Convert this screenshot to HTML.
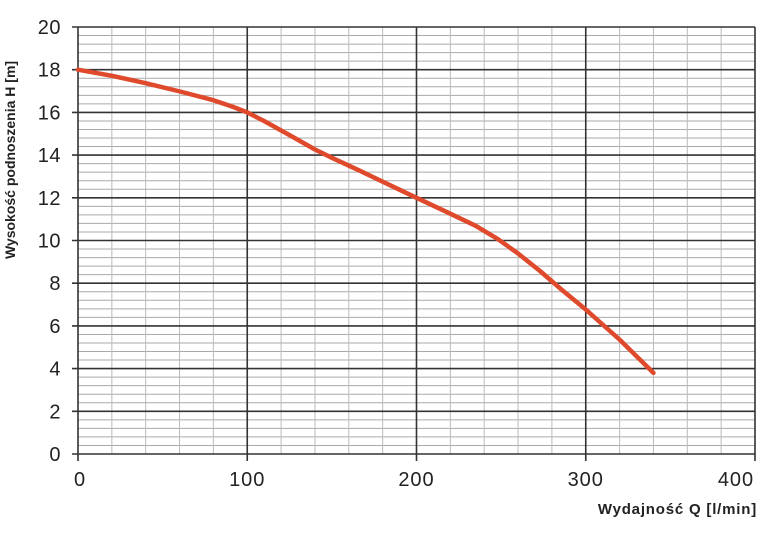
<!DOCTYPE html>
<html><head><style>body{margin:0;background:#fff}svg{display:block}</style></head><body>
<svg width="781" height="535" xmlns="http://www.w3.org/2000/svg" font-family="Liberation Sans, sans-serif">
<path fill="none" stroke="#aaa" stroke-width="1" d="M78 445.46H755M78 436.92H755M78 428.38H755M78 419.84H755M78 402.76H755M78 394.22H755M78 385.68H755M78 377.14H755M78 360.06H755M78 351.52H755M78 342.98H755M78 334.44H755M78 317.36H755M78 308.82H755M78 300.28H755M78 291.74H755M78 274.66H755M78 266.12H755M78 257.58H755M78 249.04H755M78 231.96H755M78 223.42H755M78 214.88H755M78 206.34H755M78 189.26H755M78 180.72H755M78 172.18H755M78 163.64H755M78 146.56H755M78 138.02H755M78 129.48H755M78 120.94H755M78 103.86H755M78 95.32H755M78 86.78H755M78 78.24H755M78 61.16H755M78 52.62H755M78 44.08H755M78 35.54H755"/>
<path fill="none" stroke="#bbb" stroke-width="1" d="M111.85 27V454M145.7 27V454M179.55 27V454M213.4 27V454M281.1 27V454M314.95 27V454M348.8 27V454M382.65 27V454M450.35 27V454M484.2 27V454M518.05 27V454M551.9 27V454M619.6 27V454M653.45 27V454M687.3 27V454M721.15 27V454"/>
<path fill="none" stroke="#333" stroke-width="1.6" d="M72 454H755M72 411.3H755M72 368.6H755M72 325.9H755M72 283.2H755M72 240.5H755M72 197.8H755M72 155.1H755M72 112.4H755M72 69.7H755M72 27H755M78 27V461M247.25 27V461M416.5 27V461M585.75 27V461M755 27V461"/>
<polyline fill="none" stroke="#e04a2c" stroke-width="4.5" stroke-linejoin="round" stroke-linecap="round" points="78,69.7 112,75.8 145.7,83.2 180,91.5 213.4,100.2 232,106.5 247.25,112.4 265,121.5 290,135.4 315,149.5 331.9,157.8 360,170.8 390,185.2 416.5,197.8 445,211.2 475.7,225.8 498,239.2 518.05,253.5 540,271 562,290 585.75,309.5 620,340 653.45,372.9"/>
<g font-size="20" fill="#222" text-anchor="end" letter-spacing="0.5">
<text x="61" y="461">0</text><text x="61" y="418.3">2</text><text x="61" y="375.6">4</text><text x="61" y="332.9">6</text><text x="61" y="290.2">8</text><text x="61" y="247.5">10</text><text x="61" y="204.8">12</text><text x="61" y="162.1">14</text><text x="61" y="119.4">16</text><text x="61" y="76.7">18</text><text x="61" y="34">20</text>
</g>
<g font-size="20" fill="#222" text-anchor="middle" letter-spacing="1">
<text x="80" y="486">0</text><text x="247.25" y="486">100</text><text x="416.5" y="486">200</text><text x="585.75" y="486">300</text><text x="736" y="486">400</text>
</g>
<text x="757" y="514" font-size="15" font-weight="bold" text-anchor="end" fill="#222" letter-spacing="0.8">Wydajność Q [l/min]</text>
<text transform="translate(15,160) rotate(-90)" font-size="14" font-weight="bold" text-anchor="middle" fill="#222">Wysokość podnoszenia H [m]</text>
</svg>
</body></html>
